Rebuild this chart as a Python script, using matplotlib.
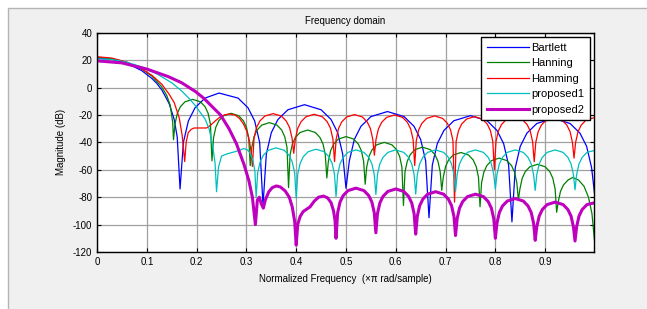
import numpy as np
import matplotlib.pyplot as plt
from matplotlib.patches import Rectangle

plt.rcParams['font.family'] = ['Liberation Sans', 'DejaVu Sans']
plt.rcParams['axes.unicode_minus'] = False

# values (normalized freq, dB)
bart_f = [0, 0.03, 0.06, 0.09, 0.11, 0.12, 0.13, 0.138, 0.145, 0.155, 0.161, 0.1667,
          0.1734, 0.1834, 0.1967, 0.2167, 0.245, 0.2833, 0.3033, 0.3166, 0.3266, 0.3333,
          0.34, 0.35, 0.3633, 0.3833, 0.4167, 0.45, 0.47, 0.4833, 0.4933, 0.5,
          0.5067, 0.5167, 0.53, 0.55, 0.5833, 0.6167, 0.6367, 0.65, 0.66, 0.6667,
          0.6734, 0.6834, 0.6967, 0.7167, 0.75, 0.7833, 0.8033, 0.8166, 0.8266, 0.8333,
          0.84, 0.85, 0.8633, 0.8833, 0.9167, 0.95, 0.97, 0.9833, 0.9933, 1.0]
bart_db = [21.3, 20.7, 17.7, 12.3, 6.7, 3.0, -1.7, -7, -11.9, -23.4, -36, -74,
           -40, -24.4, -14.8, -7.7, -4, -7.7, -14.8, -24.4, -40, -86,
           -48.5, -32.9, -23.3, -16.2, -12.5, -16.2, -23.3, -32.9, -48.5, -73.5,
           -53.5, -37.9, -28.3, -21.2, -17.5, -21.2, -28.3, -37.9, -53.5, -95,
           -56.5, -40.9, -31.3, -24.2, -20.5, -24.2, -31.3, -40.9, -56.5, -98,
           -58.5, -42.9, -33.3, -26.2, -22.5, -26.2, -33.3, -42.9, -58.5, -80]

hann_f = [0, 0.03, 0.06, 0.09, 0.11, 0.13, 0.14, 0.147, 0.152, 0.1535,
          0.1566, 0.1612, 0.1673, 0.1766, 0.1921, 0.2077, 0.217, 0.2231, 0.2277, 0.2308,
          0.2339, 0.2385, 0.2446, 0.2539, 0.2692, 0.2846, 0.2939, 0.3, 0.3046, 0.3077,
          0.3108, 0.3154, 0.3215, 0.3308, 0.3462, 0.3615, 0.3708, 0.3769, 0.3815, 0.3846,
          0.3877, 0.3923, 0.3984, 0.4077, 0.4231, 0.4384, 0.4477, 0.4538, 0.4584, 0.4615,
          0.4646, 0.4692, 0.4753, 0.4846, 0.5, 0.5154, 0.5247, 0.5308, 0.5354, 0.5385,
          0.5416, 0.5462, 0.5523, 0.5616, 0.5769, 0.5923, 0.6016, 0.6077, 0.6123, 0.6154,
          0.6185, 0.6231, 0.6292, 0.6385, 0.6538, 0.6692, 0.6785, 0.6846, 0.6892, 0.6923,
          0.6954, 0.7, 0.7061, 0.7154, 0.7308, 0.7461, 0.7554, 0.7615, 0.7661, 0.7692,
          0.7723, 0.7769, 0.783, 0.7923, 0.8077, 0.8231, 0.8324, 0.8385, 0.8431, 0.8462,
          0.8493, 0.8539, 0.86, 0.8693, 0.8846, 0.9, 0.9093, 0.9154, 0.92, 0.9231,
          0.9262, 0.9308, 0.9369, 0.9462, 0.9555, 0.967, 0.978, 0.987, 0.994, 1.0]
hann_db = [22, 21.1, 18.4, 13.5, 8.4, 0.5, -5.8, -13, -25.6, -38,
           -26.6, -18.8, -14, -10.4, -8.6, -10.4, -14, -18.8, -26.6, -53.5,
           -36.8, -29, -24.2, -20.6, -18.8, -20.6, -24.2, -29, -36.8, -57,
           -43.6, -35.8, -31, -27.4, -25.6, -27.4, -31, -35.8, -43.6, -73,
           -49, -41.2, -36.4, -32.8, -31, -32.8, -36.4, -41.2, -49, -66,
           -53.8, -46, -41.2, -37.6, -35.8, -37.6, -41.2, -46, -53.8, -70.5,
           -58, -50.2, -45.4, -41.8, -40, -41.8, -45.4, -50.2, -58, -86,
           -61.5, -53.7, -48.9, -45.3, -43.5, -45.3, -48.9, -53.7, -61.5, -75,
           -65.4, -57.6, -52.8, -49.2, -47.4, -49.2, -52.8, -57.6, -65.4, -87,
           -69.5, -61.7, -56.9, -53.3, -51.5, -53.3, -56.9, -61.7, -69.5, -82,
           -74, -66.2, -61.4, -57.8, -56, -57.8, -61.4, -66.2, -74, -91,
           -83.6, -75.8, -71, -67.4, -65.6, -67.5, -72, -80, -92, -115]

hamm_f = [0, 0.03, 0.06, 0.09, 0.11, 0.13, 0.145, 0.155, 0.165, 0.171, 0.176,
          0.179, 0.183, 0.189, 0.195, 0.22, 0.228, 0.237, 0.247, 0.257, 0.267,
          0.277, 0.286, 0.294, 0.301, 0.306, 0.31, 0.312,
          0.3153, 0.3203, 0.327, 0.3369, 0.3535, 0.3701, 0.38, 0.3867, 0.3917, 0.395,
          0.3983, 0.4032, 0.4098, 0.4196, 0.436, 0.4524, 0.4622, 0.4688, 0.4737, 0.477,
          0.4802, 0.485, 0.4914, 0.501, 0.517, 0.533, 0.5426, 0.549, 0.5538, 0.557,
          0.5602, 0.5651, 0.5716, 0.5813, 0.5975, 0.6137, 0.6234, 0.6299, 0.6348, 0.638,
          0.6412, 0.646, 0.6524, 0.662, 0.678, 0.694, 0.7036, 0.71, 0.7148, 0.718,
          0.7212, 0.726, 0.7324, 0.742, 0.758, 0.774, 0.7836, 0.79, 0.7948, 0.798,
          0.8012, 0.806, 0.8124, 0.822, 0.838, 0.854, 0.8636, 0.87, 0.8748, 0.878,
          0.8812, 0.886, 0.8924, 0.902, 0.918, 0.934, 0.9436, 0.95, 0.9548, 0.958,
          0.9612, 0.966, 0.9724, 0.982, 1.0]
hamm_db = [22.5, 21.5, 18.5, 13.5, 9, 2.5, -5, -11, -22, -35, -54,
           -40, -33, -30.5, -29.5, -29.5, -27.5, -24.5, -21.5, -19.8, -19.3,
           -20, -22.5, -26.5, -32, -39, -48, -57.6,
           -37, -29.2, -24.4, -20.8, -19, -20.8, -24.4, -29.2, -37, -48,
           -37.5, -29.7, -24.9, -21.3, -19.5, -21.3, -24.9, -29.7, -37.5, -54,
           -37.7, -29.9, -25.1, -21.5, -19.7, -21.5, -25.1, -29.9, -37.7, -49.4,
           -38, -30.2, -25.4, -21.8, -20, -21.8, -25.4, -30.2, -38, -56.9,
           -38.7, -30.9, -26.1, -22.5, -20.7, -22.5, -26.1, -30.9, -38.7, -83.6,
           -39.2, -31.4, -26.6, -23, -21.2, -23, -26.6, -31.4, -39.2, -60,
           -39.5, -31.7, -26.9, -23.3, -21.5, -23.3, -26.9, -31.7, -39.5, -54.2,
           -40, -32.2, -27.4, -23.8, -22, -23.8, -27.4, -32.2, -40, -51.5,
           -40, -32.2, -27.4, -23.8, -21.8]

prop1_f = [0, 0.03, 0.06, 0.09, 0.12, 0.15, 0.17, 0.185, 0.197, 0.207, 0.217,
           0.225, 0.232, 0.237, 0.24,
           0.244, 0.25, 0.26, 0.28, 0.295, 0.302, 0.308, 0.313, 0.317, 0.3195,
           0.3227, 0.3276, 0.334, 0.3437, 0.3598, 0.3759, 0.3855, 0.392, 0.3968, 0.4,
           0.4032, 0.408, 0.4144, 0.424, 0.44, 0.456, 0.4656, 0.472, 0.4768, 0.48,
           0.4832, 0.488, 0.4944, 0.504, 0.52, 0.536, 0.5456, 0.552, 0.5568, 0.56,
           0.5632, 0.568, 0.5744, 0.584, 0.6, 0.616, 0.6256, 0.632, 0.6368, 0.64,
           0.6432, 0.648, 0.6544, 0.664, 0.68, 0.696, 0.7056, 0.712, 0.7168, 0.72,
           0.7232, 0.728, 0.7344, 0.744, 0.76, 0.776, 0.7856, 0.792, 0.7968, 0.8,
           0.8032, 0.808, 0.8144, 0.824, 0.84, 0.856, 0.8656, 0.872, 0.8768, 0.88,
           0.8832, 0.888, 0.8944, 0.904, 0.92, 0.936, 0.9456, 0.952, 0.9568, 0.96,
           0.9632, 0.968, 0.9744, 0.984, 1.0]
prop1_db = [21, 20.5, 18.5, 15, 10, 3.5, -2.5, -8, -13, -18, -23,
            -30, -42, -55, -76,
            -58, -50, -48.5, -46.5, -44.5, -45.5, -48, -53, -61, -80,
            -62, -54.2, -49.4, -45.8, -44, -45.8, -49.4, -54.2, -62, -80.7,
            -63, -55.2, -50.4, -46.8, -45, -46.8, -50.4, -55.2, -63, -79.5,
            -63.5, -55.7, -50.9, -47.3, -45.5, -47.3, -50.9, -55.7, -63.5, -78,
            -63.5, -55.7, -50.9, -47.3, -45.5, -47.3, -50.9, -55.7, -63.5, -77.7,
            -63.5, -55.7, -50.9, -47.3, -45.5, -47.3, -50.9, -55.7, -63.5, -75.8,
            -63.5, -55.7, -50.9, -47.3, -45.5, -47.3, -50.9, -55.7, -63.5, -74,
            -63.5, -55.7, -50.9, -47.3, -45.5, -47.3, -50.9, -55.7, -63.5, -75,
            -63.5, -55.7, -50.9, -47.3, -45.5, -47.3, -50.9, -55.7, -63.5, -74.6,
            -63.5, -55.7, -50.9, -47.3, -45.8]

prop2_f = [0, 0.05, 0.1, 0.143, 0.17, 0.198, 0.215, 0.23, 0.248, 0.265, 0.28,
           0.295, 0.305, 0.312, 0.318,
           0.322, 0.326, 0.33, 0.334, 0.338, 0.345, 0.352, 0.36, 0.368, 0.378,
           0.386, 0.392, 0.397, 0.4,
           0.403, 0.408, 0.414, 0.42, 0.428, 0.436, 0.445, 0.455, 0.463, 0.47,
           0.475, 0.478, 0.48,
           0.4832, 0.488, 0.4944, 0.504, 0.52, 0.536, 0.5456, 0.552, 0.5568, 0.56,
           0.5632, 0.568, 0.5744, 0.584, 0.6, 0.616, 0.6256, 0.632, 0.6368, 0.64,
           0.6432, 0.648, 0.6544, 0.664, 0.68, 0.696, 0.7056, 0.712, 0.7168, 0.72,
           0.7232, 0.728, 0.7344, 0.744, 0.76, 0.776, 0.7856, 0.792, 0.7968, 0.8,
           0.8032, 0.808, 0.8144, 0.824, 0.84, 0.856, 0.8656, 0.872, 0.8768, 0.88,
           0.8832, 0.888, 0.8944, 0.904, 0.92, 0.936, 0.9456, 0.952, 0.9568, 0.96,
           0.9632, 0.968, 0.9744, 0.984, 1.0]
prop2_db = [19.5, 18, 13.5, 8, 3.5, -3, -8, -13.5, -20, -30, -41,
            -56, -68, -80, -100,
            -82, -80, -85, -88, -82, -76, -73, -71.8, -72.5, -75.5,
            -80, -87, -98, -115,
            -100, -94, -90.5, -89, -87, -83, -80, -79.2, -80.5, -84,
            -90, -97, -110,
            -91.4, -83.6, -78.8, -75.2, -73.4, -75.2, -78.8, -83.6, -91.4, -106,
            -92, -84.2, -79.4, -75.8, -74, -75.8, -79.4, -84.2, -92, -107,
            -94, -86.2, -81.4, -77.8, -76, -77.8, -81.4, -86.2, -94, -108,
            -95.8, -88, -83.2, -79.6, -77.8, -79.6, -83.2, -88, -95.8, -110,
            -99, -91.2, -86.4, -82.8, -81, -82.8, -86.4, -91.2, -99, -111.5,
            -101.6, -93.8, -89, -85.4, -83.6, -85.4, -89, -93.8, -101.6, -112,
            -101.6, -93.8, -89, -85.4, -84]

x_ticks = [0, 0.1, 0.2, 0.3, 0.4, 0.5, 0.6, 0.7, 0.8, 0.9]
y_ticks = [-120, -100, -80, -60, -40, -20, 0, 20, 40]

fig = plt.figure(figsize=(6.47, 3.09), dpi=100)
fig.patch.set_facecolor('white')
# grey panel behind the axes, like the MATLAB window
bg = fig.add_axes([0, 0, 1, 1], zorder=-10)
bg.axis('off')
bg.set_xlim(0, 647)
bg.set_ylim(309, 0)
bg.add_patch(Rectangle((7.5, 7.5), 660, 320, facecolor='#f0f0f0',
                       edgecolor='#b4b4b4', linewidth=1))

ax = fig.add_axes([0.150, 0.1845, 0.768, 0.7095])
ax.plot(bart_f, bart_db, color='#0000ff', lw=0.9, label='Bartlett')
ax.plot(hann_f, hann_db, color='#008000', lw=0.9, label='Hanning')
ax.plot(hamm_f, hamm_db, color='#ff0000', lw=0.9, label='Hamming')
ax.plot(prop1_f, prop1_db, color='#00bfbf', lw=0.9, label='proposed1')
ax.plot(prop2_f, prop2_db, color='#bf00bf', lw=2.2, label='proposed2')

ax.set_xlim(0, 0.998)
ax.set_ylim(-120, 40)
ax.set_xticks(x_ticks)
ax.set_yticks(y_ticks)
ax.set_xticklabels([('%g' % t) for t in x_ticks])
ax.tick_params(direction='in', top=True, right=True, length=3, labelsize=7, width=0.8)
ax.grid(True, color='#a0a0a0', linewidth=0.9)
for s in ax.spines.values():
    s.set_linewidth(1.0)
    s.set_color('black')

ax.set_title('Frequency domain', fontsize=7, pad=6)
ax.set_xlabel(u'Normalized Frequency  (\u00d7\u03c0 rad/sample)', fontsize=7, labelpad=5)
ax.set_ylabel('Magnitude (dB)', fontsize=7, labelpad=5)

leg = ax.legend(loc='upper right', bbox_to_anchor=(0.992, 0.98), borderaxespad=0,
                fontsize=8, fancybox=False, framealpha=1, edgecolor='black',
                handlelength=3.8, handletextpad=0.2, labelspacing=0.5,
                borderpad=0.5)
leg.get_frame().set_linewidth(1.0)

plt.savefig('out.png', dpi=100)
